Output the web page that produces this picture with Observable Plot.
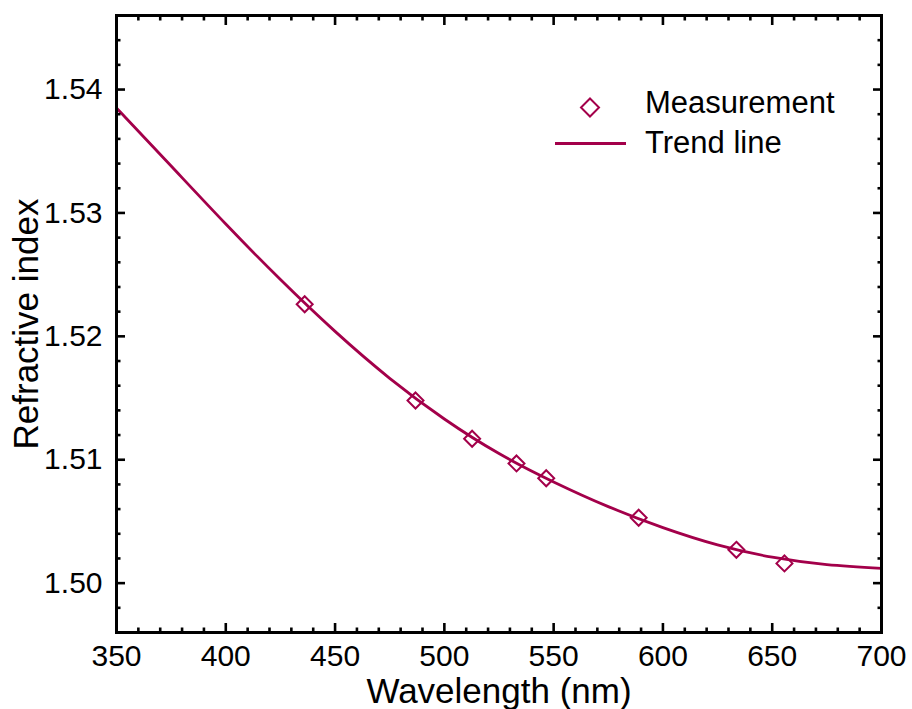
<!DOCTYPE html>
<html>
<head>
<meta charset="utf-8">
<script src="https://cdn.jsdelivr.net/npm/d3@7"></script>
<script src="https://cdn.jsdelivr.net/npm/@observablehq/plot@0.6"></script>
<style>
  html, body { margin: 0; padding: 0; background: #fff; overflow: hidden; }
  #wrap { position: relative; width: 912px; height: 709px; font-family: "Liberation Sans", Arial, sans-serif; }
  #legend { position: absolute; left: 540px; top: 80px; font-size: 31px; color: #000; }
  #legend .row { position: absolute; white-space: nowrap; }
</style>
</head>
<body>
<div id="wrap"></div>
<script>
// ---- data ----
const measWavelength = [436.1, 486.8, 512.7, 533.0, 546.6, 588.9, 633.6, 655.6];
const measIndex      = [1.5226, 1.5148, 1.5117, 1.5097, 1.5085, 1.5053, 1.5027, 1.5016];
const trendWavelength = [350, 375, 400, 425, 450, 475, 500, 525, 550, 575, 600, 625, 650, 675, 700];
const trendIndex      = [1.5385, 1.5338, 1.5291, 1.5246, 1.5204, 1.5166, 1.5133, 1.5105, 1.5082, 1.5062, 1.5045, 1.5031, 1.5021, 1.5015, 1.5012];
const xMajorTicks = [350, 400, 450, 500, 550, 600, 650, 700];
const xMinorTicks = d3.range(350, 701, 10).filter(v => v % 50 !== 0);
const yMajorTicks = [1.50, 1.51, 1.52, 1.53, 1.54];
const yMinorTicks = [1.498, 1.502, 1.504, 1.506, 1.508, 1.512, 1.514, 1.516, 1.518, 1.522, 1.524, 1.526, 1.528, 1.532, 1.534, 1.536, 1.538, 1.542, 1.544];
const seriesNames = ["Measurement", "Trend line"];

const color = "#a3004a";
const meas = measWavelength.map((w, i) => ({w, n: measIndex[i]}));
const trend = trendWavelength.map((w, i) => ({w, n: trendIndex[i]}));

const tickCommon = {tickFormat: () => "", label: null, strokeWidth: 2.6};

const chart = Plot.plot({
  width: 912,
  height: 709,
  marginLeft: 116,
  marginRight: 31,
  marginTop: 15,
  marginBottom: 77,
  style: {fontFamily: '"Liberation Sans", Arial, sans-serif', background: "#fff", overflow: "visible"},
  x: {domain: [350, 700]},
  y: {domain: [1.496, 1.546]},
  marks: [
    Plot.line(trend, {x: "w", y: "n", stroke: color, strokeWidth: 2.8, curve: "natural"}),
    Plot.dot(meas, {x: "w", y: "n", symbol: "diamond2", r: 7.2, stroke: color, strokeWidth: 2, fill: "none"}),
    // tick labels + axis titles
    Plot.axisX({ticks: xMajorTicks, tickSize: 0, tickPadding: 12, fontSize: 30, tickFormat: d3.format("d"),
      label: "Wavelength (nm)", labelAnchor: "center", labelArrow: "none", labelOffset: 70}),
    Plot.axisY({ticks: yMajorTicks, tickSize: 0, tickPadding: 14, fontSize: 30, tickFormat: d3.format(".2f"),
      label: "Refractive index", labelAnchor: "center", labelArrow: "none", labelOffset: 103}),
    // inward ticks, all four sides
    Plot.axisX({anchor: "bottom", ticks: xMajorTicks, tickSize: -9, ...tickCommon}),
    Plot.axisX({anchor: "bottom", ticks: xMinorTicks, tickSize: -4.5, ...tickCommon}),
    Plot.axisX({anchor: "top", ticks: xMajorTicks, tickSize: -9, ...tickCommon}),
    Plot.axisX({anchor: "top", ticks: xMinorTicks, tickSize: -4.5, ...tickCommon}),
    Plot.axisY({anchor: "left", ticks: yMajorTicks, tickSize: -9, ...tickCommon}),
    Plot.axisY({anchor: "left", ticks: yMinorTicks, tickSize: -4.5, ...tickCommon}),
    Plot.axisY({anchor: "right", ticks: yMajorTicks, tickSize: -9, ...tickCommon}),
    Plot.axisY({anchor: "right", ticks: yMinorTicks, tickSize: -4.5, ...tickCommon}),
    Plot.frame({stroke: "#000", strokeWidth: 3})
  ]
});

chart.querySelectorAll("[aria-label='x-axis label'] text, [aria-label='y-axis label'] text").forEach(t => t.setAttribute("font-size", 35));
const wrap = document.getElementById("wrap");
wrap.appendChild(chart);

// legend overlay
const legend = document.createElement("div");
legend.id = "legend";
legend.innerHTML = `
  <div class="row" style="left:0;top:0;">
    <svg width="100" height="40" style="position:absolute;left:0;top:4px;overflow:visible">
      <path d="M50,14.5 L59,23.5 L50,32.5 L41,23.5 Z" fill="none" stroke="${color}" stroke-width="2"/>
    </svg>
    <span style="position:absolute;left:105px;top:5px;">${seriesNames[0]}</span>
  </div>
  <div class="row" style="left:0;top:40px;">
    <svg width="100" height="40" style="position:absolute;left:0;top:4px;overflow:visible">
      <line x1="15" x2="86" y1="19.5" y2="19.5" stroke="${color}" stroke-width="2.8"/>
    </svg>
    <span style="position:absolute;left:105px;top:5px;">${seriesNames[1]}</span>
  </div>`;
wrap.appendChild(legend);
</script>
</body>
</html>
